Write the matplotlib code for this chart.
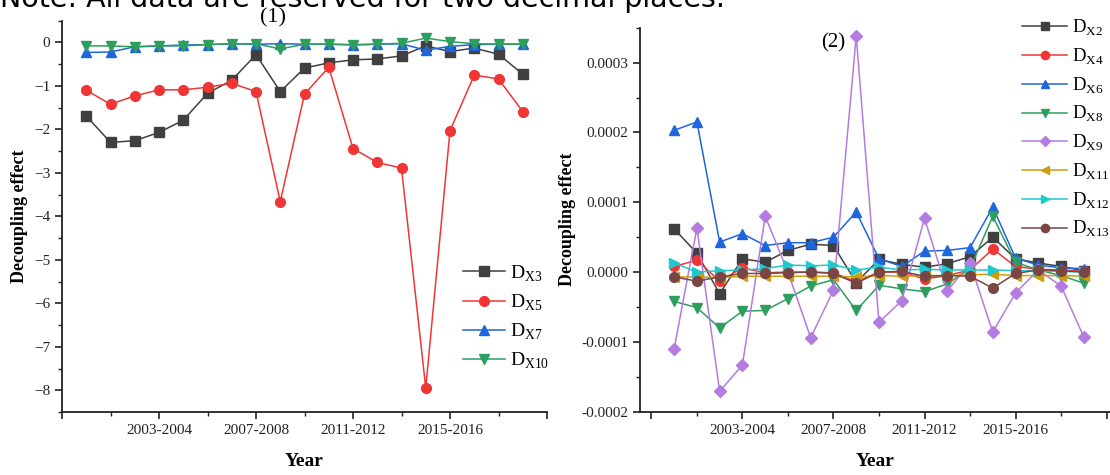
import numpy as np
import matplotlib
matplotlib.use("Agg")
import matplotlib.pyplot as plt
from matplotlib.ticker import FixedLocator, MultipleLocator

plt.rcParams['font.family'] = ['Liberation Serif', 'DejaVu Serif']
plt.rcParams['mathtext.fontset'] = 'custom'
plt.rcParams['mathtext.rm'] = 'Liberation Serif'

# start year of each period 2000-2001 ... 2018-2019
years = np.arange(2000, 2019)
major_years = [1999, 2003, 2007, 2011, 2015, 2019]
major_labels = ['', '2003-2004', '2007-2008', '2011-2012', '2015-2016', '']

# panel (1)
d_x3 = [-1.69, -2.30, -2.26, -2.07, -1.79, -1.17, -0.87, -0.28, -1.13, -0.59,
        -0.47, -0.40, -0.38, -0.31, -0.08, -0.21, -0.13, -0.27, -0.73]
d_x5 = [-1.10, -1.42, -1.23, -1.09, -1.09, -1.03, -0.94, -1.13, -3.66, -1.19,
        -0.57, -2.44, -2.76, -2.89, -7.95, -2.03, -0.75, -0.84, -1.59]
d_x7 = [-0.23, -0.22, -0.10, -0.08, -0.06, -0.05, -0.03, -0.04, -0.03, -0.04,
        -0.04, -0.05, -0.04, -0.03, -0.18, -0.09, -0.05, -0.04, -0.04]
d_x10 = [-0.08, -0.08, -0.10, -0.08, -0.08, -0.05, -0.03, -0.03, -0.15, -0.04,
         -0.04, -0.06, -0.04, -0.02, 0.10, 0.02, -0.03, -0.04, -0.04]

# panel (2), in units of 1e-4
d_x2 = [0.62, 0.27, -0.31, 0.19, 0.14, 0.31, 0.40, 0.38, -0.15, 0.18,
        0.11, 0.07, 0.12, 0.22, 0.50, 0.19, 0.13, 0.08, 0.02]
d_x4 = [0.08, 0.17, -0.13, 0.06, -0.01, 0.00, 0.00, -0.01, -0.14, 0.00,
        0.00, -0.10, -0.05, 0.03, 0.33, 0.08, 0.04, 0.03, 0.01]
d_x6 = [2.03, 2.15, 0.43, 0.55, 0.38, 0.42, 0.42, 0.50, 0.86, 0.19,
        0.08, 0.30, 0.31, 0.35, 0.93, 0.20, 0.10, 0.06, 0.05]
d_x8 = [-0.42, -0.51, -0.80, -0.56, -0.55, -0.38, -0.20, -0.11, -0.55, -0.19,
        -0.24, -0.28, -0.17, 0.05, 0.80, 0.14, 0.03, -0.05, -0.16]
d_x9 = [-1.10, 0.63, -1.71, -1.33, 0.80, 0.00, -0.94, -0.26, 3.38, -0.72,
        -0.41, 0.77, -0.27, 0.13, -0.86, -0.30, 0.03, -0.20, -0.93]
d_x11 = [-0.07, -0.07, -0.08, -0.06, -0.06, -0.06, -0.06, -0.06, -0.07, -0.05,
         -0.06, -0.05, -0.05, -0.04, -0.03, -0.05, -0.05, -0.05, -0.06]
d_x12 = [0.13, 0.00, 0.02, 0.03, 0.05, 0.10, 0.09, 0.10, 0.03, 0.07,
         0.03, 0.04, 0.03, 0.03, 0.03, 0.02, 0.02, 0.01, 0.00]
d_x13 = [-0.07, -0.13, -0.07, -0.02, -0.02, -0.01, 0.00, -0.02, -0.16, 0.00,
         0.01, -0.06, -0.05, -0.06, -0.23, -0.02, 0.03, 0.02, 0.00]

GRAY = '#404040'
RED = '#f03535'
BLUE = '#1f66dc'
GREEN = '#2e9e5e'
PURPLE = '#b47be0'
GOLD = '#cf9d0a'
CYAN = '#1fc8cc'
BROWN = '#7a4545'


def style_axis(ax):
    ax.spines['top'].set_visible(False)
    ax.spines['right'].set_visible(False)
    for s in ('left', 'bottom'):
        ax.spines[s].set_linewidth(1.3)
        ax.spines[s].set_color('#222222')
    ax.xaxis.set_major_locator(FixedLocator(major_years))
    ax.xaxis.set_minor_locator(FixedLocator([2001, 2005, 2009, 2013, 2017]))
    ax.set_xticklabels(major_labels)
    ax.tick_params(which='major', direction='out', length=5, width=1.2,
                   labelsize=11, colors='#222222')
    ax.tick_params(which='minor', direction='out', length=3, width=1.0,
                   colors='#222222')
    ax.set_xlabel('Year', fontsize=14, fontweight='bold', labelpad=12)
    ax.set_ylabel('Decoupling effect', fontsize=13, fontweight='bold')


fig = plt.figure(figsize=(11.1, 4.75), dpi=100)

fig.text(0.0, 1 - 7 / 475, 'Note: All data are reserved for two decimal places.',
         family='DejaVu Sans', fontsize=20.5, va='baseline', ha='left')

# left panel
ax1 = fig.add_axes([62 / 1110, 63 / 475, 485 / 1110, 391.3 / 475])
ax1.plot(years, d_x3, '-s', color=GRAY, lw=1.1, ms=6.5, label=r'D$_{\mathrm{X3}}$')
ax1.plot(years, d_x5, '-o', color=RED, lw=1.1, ms=7, label=r'D$_{\mathrm{X5}}$')
ax1.plot(years, d_x7, '-^', color=BLUE, lw=1.1, ms=7, label=r'D$_{\mathrm{X7}}$')
ax1.plot(years, d_x10, '-v', color=GREEN, lw=1.1, ms=7, label=r'D$_{\mathrm{X10}}$')
ax1.set_xlim(1999, 2019)
ax1.set_ylim(-8.5, 0.5)
ax1.yaxis.set_major_locator(MultipleLocator(1))
ax1.yaxis.set_minor_locator(MultipleLocator(0.5))
style_axis(ax1)
fig.text(273 / 1110, 1 - 18 / 475, '(1)', fontsize=16, ha='center', va='center')
ax1.legend(loc='upper left', bbox_to_anchor=(0.81, 0.40), frameon=False,
           fontsize=14, handlelength=2.2, handletextpad=0.25, labelspacing=0.45,
           borderaxespad=0)

# right panel
ax2 = fig.add_axes([640 / 1110, 63.3 / 475, 470 / 1110, 384 / 475])
scale = 1e-4
series2 = [
    (d_x2, 's', GRAY, 'X2'),
    (d_x4, 'o', RED, 'X4'),
    (d_x6, '^', BLUE, 'X6'),
    (d_x8, 'v', GREEN, 'X8'),
    (d_x9, 'D', PURPLE, 'X9'),
    (d_x11, '<', GOLD, 'X11'),
    (d_x12, '>', CYAN, 'X12'),
    (d_x13, 'o', BROWN, 'X13'),
]
for vals, mk, col, name in series2:
    ms = 6 if mk == 'D' else 7
    ax2.plot(years, np.array(vals) * scale, '-', marker=mk, color=col, lw=1.1,
             ms=ms, label=r'D$_{\mathrm{%s}}$' % name)
ax2.set_xlim(1998.5, 2019.15)
ax2.set_ylim(-0.0002, 0.00035)
ax2.yaxis.set_major_locator(MultipleLocator(0.0001))
ax2.yaxis.set_minor_locator(MultipleLocator(0.00005))
ax2.yaxis.set_major_formatter(plt.FuncFormatter(lambda v, p: '%.4f' % v))
style_axis(ax2)
fig.text(833 / 1110, 1 - 43 / 475, '(2)', fontsize=15, ha='center', va='center')
ax2.legend(loc='upper left', bbox_to_anchor=(0.797, 1.045), frameon=False,
           fontsize=13.5, handlelength=2.4, handletextpad=0.25, labelspacing=0.45,
           borderaxespad=0, markerscale=0.85)

fig.savefig('out.png', dpi=100)
